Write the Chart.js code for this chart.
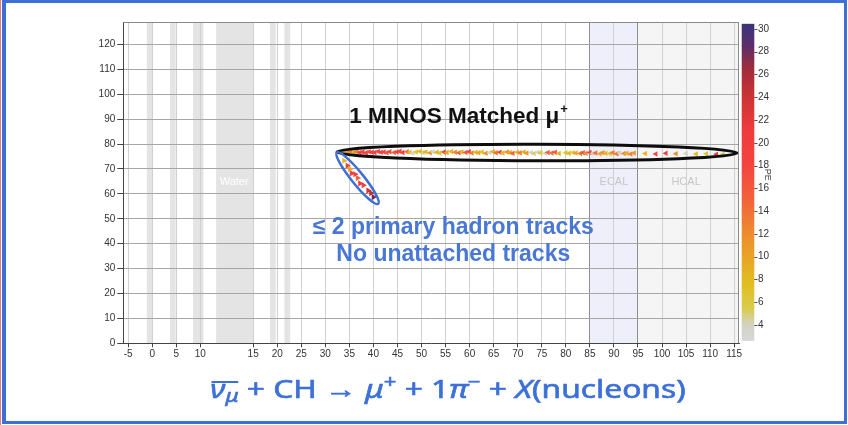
<!DOCTYPE html>
<html><head><meta charset="utf-8">
<script src="https://cdn.jsdelivr.net/npm/chart.js@4/dist/chart.umd.min.js"></script>
<style>
html,body{margin:0;padding:0;background:#fff;}
#wrap{position:relative;width:848px;height:425px;overflow:hidden;background:#fff;}
#c{position:absolute;left:0;top:0;}
#frame{position:absolute;left:2px;top:0;width:845px;height:424px;box-sizing:border-box;border:3px solid #3d6fd8;border-left-width:4px;}
#redline{position:absolute;left:0;top:0;width:1px;height:425px;background:#e87a7a;}
#formula{position:absolute;left:448px;top:373px;transform:translateX(-50%) scaleX(1.27);transform-origin:50% 50%;white-space:nowrap;
  font-family:"Noto Sans",sans-serif;font-size:25px;line-height:30px;color:#3c70d8;-webkit-text-stroke:0.6px #3c70d8;}
#formula i{font-style:italic;}
#formula sub{font-size:0.7em;vertical-align:-0.25em;line-height:0;}
#formula sup{font-size:0.7em;vertical-align:0.6em;line-height:0;}
.ov{position:relative;display:inline-block;}
.ov::before{content:'';position:absolute;left:1px;right:0;top:8px;border-top:2px solid #3c70d8;}
</style></head><body>
<div id="wrap">
<canvas id="c" width="848" height="425"></canvas>
<div id="redline"></div>
<div id="frame"></div>
<div id="formula"><span class="ov"><i>ν</i><sub><i>μ</i></sub></span> + CH → <i>μ</i><sup>+</sup> + 1<i>π</i><sup>−</sup> + <i>X</i>(nucleons)</div>
</div>
<script>
// ---------- data ----------
const xTicks = [-5,0,5,10,15,20,25,30,35,40,45,50,55,60,65,70,75,80,85,90,95,100,105,110,115];
const yTicks = [0,10,20,30,40,50,60,70,80,90,100,110,120];
const peTicks = [4,6,8,10,12,14,16,18,20,22,24,26,28,30];

// detector regions (x units)
const targetBands = [[-1.1,0],[3.7,4.9],[8.5,10.3],[11.5,15],[18.5,19.7],[21.5,22.7]];
const ecalBand = [85,95];
const hcalBand = [95,116];
const regionNames = ['Water','ECAL','HCAL'];
const regionNameX = [13.2, 90, 105];

// muon track (MINOS matched)
const muonX = [
 34.1, 34.7, 35.3, 36.0, 36.6, 37.2, 37.8, 38.5, 39.1, 39.7,
 40.3, 41.0, 41.6, 42.2, 42.8, 43.4, 44.3, 44.9, 45.5, 46.1,
 47.0, 47.6, 48.2, 48.9, 49.7, 50.3, 50.9, 51.8, 52.4, 53.2,
 53.8, 54.7, 55.3, 56.2, 57.0, 57.8, 58.4, 59.2, 59.9, 60.5,
 61.3, 61.9, 62.6, 63.4, 64.2, 64.9, 65.5, 66.3, 66.9, 67.8,
 68.4, 69.0, 69.9, 70.5, 71.3, 71.9, 72.8, 73.4, 74.2, 74.8,
 75.7, 76.3, 77.1, 77.8, 78.6, 80.0, 80.7, 81.5, 82.1, 83.0,
 83.6, 84.2, 85.0, 85.6, 86.2, 87.1, 87.7, 88.3, 89.2, 89.8,
 90.6, 91.2, 92.1, 92.7, 93.5, 94.2, 96.5, 98.7, 100.8, 102.9,
 105.0, 107.1, 109.2, 111.3, 112.7
];
const muonY = [
 76.8, 76.6, 77.0, 76.7, 76.9, 76.6, 76.8, 76.5, 76.9, 76.7,
 76.6, 77.0, 76.7, 76.8, 76.5, 76.9, 76.6, 76.8, 77.1, 76.6,
 76.9, 76.7, 76.4, 76.8, 77.0, 76.6, 76.8, 76.5, 76.9, 76.7,
 76.4, 76.8, 76.6, 77.0, 76.7, 76.5, 76.8, 76.6, 76.9, 76.4,
 76.7, 76.5, 76.8, 76.3, 76.6, 76.9, 76.5, 76.7, 76.4, 76.8,
 76.6, 76.3, 76.7, 76.5, 76.8, 76.4, 76.6, 76.2, 76.7, 76.5,
 76.3, 76.6, 76.4, 76.7, 76.2, 76.5, 76.3, 76.6, 76.4, 76.2,
 76.5, 76.3, 76.6, 76.2, 76.4, 76.1, 76.5, 76.3, 76.2, 76.5,
 76.1, 76.4, 76.2, 76.3, 76.0, 76.4, 76.2, 76.0, 76.3, 76.1,
 76.2, 76.0, 76.1, 75.9, 76.0
];
const muonPE = [
 8, 11, 13, 9, 14, 18, 20, 19, 17, 21,
 19, 18, 20, 19, 16, 18, 15, 19, 18, 20,
 14, 8, 4, 7, 9, 5, 8, 12, 4, 9,
 7, 19, 10, 8, 12, 15, 9, 16, 18, 13,
 8, 10, 7, 12, 4, 9, 14, 19, 8, 12,
 10, 15, 8, 13, 9, 11, 4, 5, 4, 7,
 4, 15, 14, 16, 9, 7, 8, 6, 10, 13,
 16, 12, 19, 4, 14, 9, 12, 8, 7, 13,
 14, 4, 12, 9, 13, 11, 8, 18, 20, 12,
 4, 8, 7, 20, 5
];

// hadron track
const hadronX = [33.9, 34.6, 35.1, 35.5, 36.2, 36.7, 37.2, 37.9, 38.9, 39.5, 40.0];
const hadronY = [73.3, 71.3, 70.0, 68.3, 67.9, 66.4, 64.2, 63.5, 61.3, 60.3, 58.7];
const hadronPE = [8, 20, 10, 19, 20, 15, 21, 20, 24, 25, 28];

// ---------- colour map ----------
const peStops = [[2.4,'#d9d9d9'],[4,'#d3d2c6'],[5.5,'#d8cc48'],[7.5,'#e2be22'],[10,'#e9a326'],
  [12.5,'#ee8630'],[15,'#f2623a'],[18,'#f4443f'],[21,'#f03c3c'],[24,'#cc3434'],[26.5,'#a02c3c'],
  [28.5,'#5e2e6a'],[30.6,'#36367f']];
function hex2rgb(h){return [parseInt(h.substr(1,2),16),parseInt(h.substr(3,2),16),parseInt(h.substr(5,2),16)];}
function peColor(v){
  if(v<=peStops[0][0]) return peStops[0][1];
  for(let i=1;i<peStops.length;i++){
    if(v<=peStops[i][0]){
      const [a,ca]=peStops[i-1],[b,cb]=peStops[i];const t=(v-a)/(b-a);
      const A=hex2rgb(ca),B=hex2rgb(cb);
      return 'rgb('+A.map((c,k)=>Math.round(c+(B[k]-c)*t)).join(',')+')';
    }
  }
  return peStops[peStops.length-1][1];
}

// ---------- warped x scale (stretched water target) ----------
function warp(x){return x<=10?x:(x>=15?x+6:10+(x-10)*11/5);}
function unwarp(u){return u<=10?u:(u>=21?u-6:10+(u-10)*5/11);}
class WarpScale extends Chart.LinearScale{
  getPixelForValue(v){const a=warp(this.min),b=warp(this.max);return this.getPixelForDecimal((warp(v)-a)/(b-a));}
  getValueForPixel(p){const a=warp(this.min),b=warp(this.max);return unwarp(a+this.getDecimalForPixel(p)*(b-a));}
}
WarpScale.id='warp';
WarpScale.defaults=Chart.LinearScale.defaults;
Chart.register(WarpScale);

const FONT='"Liberation Sans", Arial, sans-serif';

function ellipseBetween(ctx,x1,y1,x2,y2,ry){
  const cx=(x1+x2)/2,cy=(y1+y2)/2,rx=Math.hypot(x2-x1,y2-y1)/2,ang=Math.atan2(y2-y1,x2-x1);
  ctx.beginPath();ctx.ellipse(cx,cy,rx,ry,ang,0,Math.PI*2);ctx.stroke();
}
function noPad(s){s.paddingTop=0;s.paddingBottom=0;s.paddingLeft=0;s.paddingRight=0;}

const decor={
  id:'decor',
  beforeDraw(chart){
    const {ctx,chartArea:a,scales:{x,y}}=chart;
    ctx.save();
    ctx.fillStyle='#fff';ctx.fillRect(0,0,chart.width,chart.height);
    ctx.fillStyle='#efeffb';
    ctx.fillRect(x.getPixelForValue(ecalBand[0]),a.top,x.getPixelForValue(ecalBand[1])-x.getPixelForValue(ecalBand[0]),a.bottom-a.top);
    ctx.fillStyle='#f5f5f5';
    ctx.fillRect(x.getPixelForValue(hcalBand[0]),a.top,a.right-x.getPixelForValue(hcalBand[0]),a.bottom-a.top);
    ctx.fillStyle='#e4e4e4';
    targetBands.forEach(([s,e])=>{
      const p1=x.getPixelForValue(s),p2=x.getPixelForValue(e);
      ctx.fillRect(p1,a.top,p2-p1,a.bottom-a.top);
    });
    ctx.font='11px '+FONT;ctx.textAlign='center';ctx.textBaseline='middle';
    regionNames.forEach((n,i)=>{
      ctx.fillStyle=i===0?'#ffffff':'#c6c6c6';
      ctx.fillText(n,x.getPixelForValue(regionNameX[i]),y.getPixelForValue(64.6));
    });
    ctx.restore();
  },
  afterDraw(chart){
    const {ctx,chartArea:a,scales:{x,y,pe}}=chart;
    ctx.save();
    ctx.strokeStyle='#8a8a8a';ctx.lineWidth=1;
    ctx.beginPath();ctx.moveTo(a.left,a.top+0.5);ctx.lineTo(a.right,a.top+0.5);
    ctx.moveTo(a.right-0.5,a.top);ctx.lineTo(a.right-0.5,a.bottom);ctx.stroke();
    // colour bar
    const lo=2.6,hi=30.45;
    const yT=pe.getPixelForValue(hi),yB=pe.getPixelForValue(lo);
    const g=ctx.createLinearGradient(0,yB,0,yT);
    peStops.forEach(([v,c])=>{const t=(v-lo)/(hi-lo);if(t>=0&&t<=1)g.addColorStop(t,c);});
    g.addColorStop(0,peColor(lo));g.addColorStop(1,peColor(hi));
    ctx.fillStyle=g;
    ctx.fillRect(a.right+2.7,yT,12.6,yB-yT);
    ctx.strokeStyle='#555';ctx.lineWidth=1;ctx.beginPath();
    peTicks.forEach(v=>{const p=Math.round(pe.getPixelForValue(v))+0.5;ctx.moveTo(a.right+15.3,p);ctx.lineTo(a.right+18.5,p);});
    ctx.stroke();
    ctx.save();ctx.translate(a.right+28,pe.getPixelForValue(17.2));ctx.rotate(Math.PI/2);
    ctx.font='9px '+FONT;ctx.fillStyle='#444';ctx.textAlign='center';ctx.textBaseline='middle';
    ctx.fillText('PE',0,0);ctx.restore();
    ctx.restore();
  },
  afterDatasetsDraw(chart){
    const {ctx,scales:{x,y}}=chart;
    ctx.save();
    ctx.strokeStyle='#0d0d0d';ctx.lineWidth=3;
    ellipseBetween(ctx,x.getPixelForValue(32.4),y.getPixelForValue(76.8),x.getPixelForValue(115.6),y.getPixelForValue(76.4),8.3);
    ctx.strokeStyle='#3f6fd4';ctx.lineWidth=2.5;
    ellipseBetween(ctx,x.getPixelForValue(32.4),y.getPixelForValue(76.6),x.getPixelForValue(41.0),y.getPixelForValue(56.0),6);
    ctx.textBaseline='alphabetic';ctx.textAlign='left';
    ctx.font='bold 22.5px '+FONT;
    const t1='1 MINOS Matched μ';
    const w1=ctx.measureText(t1).width;
    ctx.font='bold 13px '+FONT;const wp=ctx.measureText('+').width;
    const cx1=x.getPixelForValue(57.6),by1=y.getPixelForValue(88.4);
    ctx.fillStyle='#111';ctx.font='bold 22.5px '+FONT;
    ctx.fillText(t1,cx1-(w1+wp)/2,by1);
    ctx.font='bold 13px '+FONT;ctx.fillText('+',cx1-(w1+wp)/2+w1+1,by1-10);
    ctx.fillStyle='#4877d5';ctx.font='bold 23px '+FONT;ctx.textAlign='center';
    const cx2=x.getPixelForValue(56.6);
    ctx.fillText('≤ 2 primary hadron tracks',cx2,y.getPixelForValue(44.0));
    ctx.fillText('No unattached tracks',cx2,y.getPixelForValue(33.0));
    ctx.restore();
  }
};

new Chart(document.getElementById('c'),{
  type:'scatter',
  data:{datasets:[
    {label:'muon',data:muonX.map((v,i)=>({x:v,y:muonY[i]})),pointStyle:'triangle',pointRotation:-90,
     pointRadius:3.3,pointBorderWidth:0,backgroundColor:muonPE.map(peColor),borderColor:muonPE.map(peColor)},
    {label:'hadron',data:hadronX.map((v,i)=>({x:v,y:hadronY[i]})),pointStyle:'triangle',pointRotation:90,
     pointRadius:3.5,pointBorderWidth:0,backgroundColor:hadronPE.map(peColor),borderColor:hadronPE.map(peColor)}
  ]},
  options:{
    responsive:false,animation:false,devicePixelRatio:1,
    layout:{padding:{left:0,top:22,right:64,bottom:61.7}},
    plugins:{legend:{display:false},tooltip:{enabled:false}},
    scales:{
      x:{type:'warp',min:-6,max:116,
        afterBuildTicks:s=>{s.ticks=xTicks.map(v=>({value:v}));},
        afterFit:s=>{s.height=20;noPad(s);},
        grid:{color:c=>(c.tick&&(c.tick.value===85||c.tick.value===95))?'#8e8e8e':'#d0d0d0',lineWidth:1,tickLength:4,tickColor:'#444'},
        border:{display:true,color:'#444',width:1},
        ticks:{autoSkip:false,maxRotation:0,padding:1,color:'#333',font:{family:FONT,size:10},callback:v=>String(v)}},
      y:{min:0,max:129,position:'left',
        afterBuildTicks:s=>{s.ticks=yTicks.map(v=>({value:v}));},
        afterFit:s=>{s.width=123.3;noPad(s);},
        grid:{color:'#a6a6a6',lineWidth:1,tickLength:6,tickColor:'#444'},
        border:{display:true,color:'#444',width:1},
        ticks:{padding:2,color:'#333',font:{family:FONT,size:10},callback:v=>String(v)}},
      pe:{position:'right',min:2.39,max:30.61,
        afterBuildTicks:s=>{s.ticks=peTicks.map(v=>({value:v}));},
        afterFit:s=>{s.width=45;noPad(s);},
        grid:{display:false,drawTicks:false},border:{display:false},
        ticks:{padding:19,color:'#333',font:{family:FONT,size:10},callback:v=>String(v)}}
    }
  },
  plugins:[decor]
});
</script>
</body></html>
